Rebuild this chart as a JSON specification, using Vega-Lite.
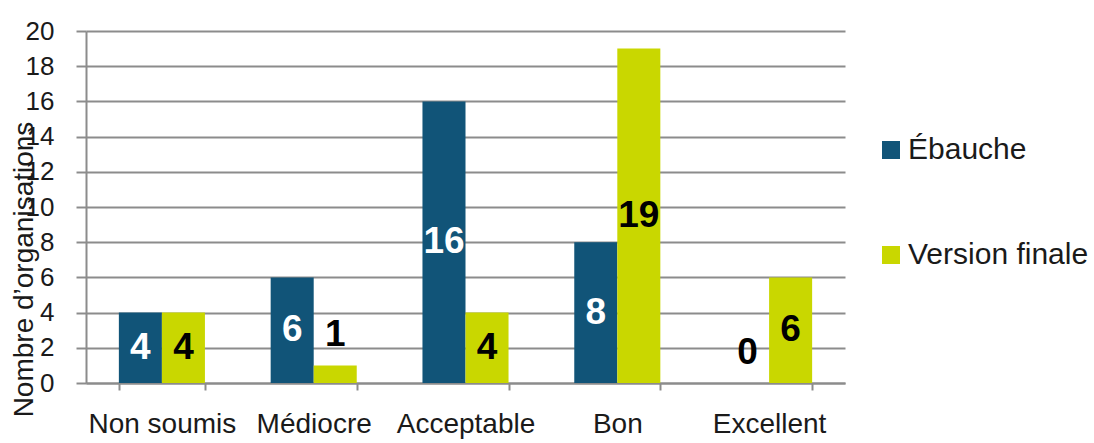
{
  "$schema": "https://vega.github.io/schema/vega-lite/v6.json",
  "width": 759,
  "height": 352,
  "autosize": "none",
  "padding": {"left": 86, "top": 31, "right": 249, "bottom": 60},
  "background": "white",
  "config": {
    "view": {"stroke": null},
    "font": "Liberation Sans"
  },
  "data": {
    "values": [
      {"categorie": "Non soumis", "serie": "Ébauche", "value": 4},
      {"categorie": "Non soumis", "serie": "Version finale", "value": 4},
      {"categorie": "Médiocre", "serie": "Ébauche", "value": 6},
      {"categorie": "Médiocre", "serie": "Version finale", "value": 1},
      {"categorie": "Acceptable", "serie": "Ébauche", "value": 16},
      {"categorie": "Acceptable", "serie": "Version finale", "value": 4},
      {"categorie": "Bon", "serie": "Ébauche", "value": 8},
      {"categorie": "Bon", "serie": "Version finale", "value": 19},
      {"categorie": "Excellent", "serie": "Ébauche", "value": 0},
      {"categorie": "Excellent", "serie": "Version finale", "value": 6}
    ]
  },
  "encoding": {
    "x": {
      "field": "categorie",
      "type": "nominal",
      "sort": ["Non soumis", "Médiocre", "Acceptable", "Bon", "Excellent"],
      "scale": {"paddingInner": 0.433, "paddingOuter": 0.2165},
      "axis": {
        "title": null,
        "labelAngle": 0,
        "labelFont": "Liberation Sans",
        "labelFontSize": 28,
        "labelColor": "#1a1a1a",
        "labelPadding": 20,
        "tickBand": "extent",
        "tickSize": 7,
        "tickWidth": 2,
        "tickColor": "#8c8c8c",
        "domainColor": "#8c8c8c",
        "domainWidth": 2,
        "grid": false
      }
    },
    "xOffset": {
      "field": "serie",
      "type": "nominal",
      "sort": ["Ébauche", "Version finale"],
      "scale": {"paddingInner": 0, "paddingOuter": 0}
    }
  },
  "layer": [
    {
      "mark": {"type": "bar"},
      "encoding": {
        "y": {
          "field": "value",
          "type": "quantitative",
          "scale": {"domain": [0, 20], "nice": false},
          "axis": {
            "title": "Nombre d’organisations",
            "titleFont": "Liberation Sans",
            "titleFontSize": 28,
            "titleFontWeight": "normal",
            "titleColor": "#1a1a1a",
            "titleX": -48,
            "titleY": 238,
            "titleAngle": 270,
            "titleAlign": "center",
            "titleBaseline": "bottom",
            "values": [0, 2, 4, 6, 8, 10, 12, 14, 16, 18, 20],
            "labelOverlap": false,
            "labelFont": "Liberation Sans",
            "labelFontSize": 26,
            "labelColor": "#1a1a1a",
            "labelPadding": 22,
            "tickSize": 10,
            "tickWidth": 2,
            "tickColor": "#8c8c8c",
            "domainColor": "#8c8c8c",
            "domainWidth": 2,
            "grid": true,
            "gridColor": "#8c8c8c",
            "gridWidth": 2
          }
        },
        "color": {
          "field": "serie",
          "type": "nominal",
          "sort": ["Ébauche", "Version finale"],
          "scale": {"domain": ["Ébauche", "Version finale"], "range": ["#115478", "#c9d700"]},
          "legend": {
            "title": null,
            "orient": "none",
            "legendX": 790,
            "legendY": 104,
            "padding": 0,
            "symbolType": "square",
            "symbolSize": 324,
            "symbolStrokeWidth": 0,
            "labelFont": "Liberation Sans",
            "labelFontSize": 30,
            "labelColor": "#1a1a1a",
            "labelOffset": 2,
            "labelLimit": 0,
            "rowPadding": 75
          }
        }
      }
    },
    {
      "transform": [
        {"calculate": "datum.value < 2 ? datum.value + 1.7 : datum.value / 2", "as": "labelPos"}
      ],
      "mark": {
        "type": "text",
        "font": "Liberation Sans",
        "fontWeight": "bold",
        "fontSize": 37,
        "baseline": "middle",
        "align": "center"
      },
      "encoding": {
        "y": {
          "field": "labelPos",
          "type": "quantitative",
          "axis": {
            "title": "Nombre d’organisations",
            "titleFont": "Liberation Sans",
            "titleFontSize": 28,
            "titleFontWeight": "normal",
            "titleColor": "#1a1a1a",
            "titleX": -48,
            "titleY": 238,
            "titleAngle": 270,
            "titleAlign": "center",
            "titleBaseline": "bottom",
            "values": [0, 2, 4, 6, 8, 10, 12, 14, 16, 18, 20],
            "labelOverlap": false,
            "labelFont": "Liberation Sans",
            "labelFontSize": 26,
            "labelColor": "#1a1a1a",
            "labelPadding": 22,
            "tickSize": 10,
            "tickWidth": 2,
            "tickColor": "#8c8c8c",
            "domainColor": "#8c8c8c",
            "domainWidth": 2,
            "grid": true,
            "gridColor": "#8c8c8c",
            "gridWidth": 2
          }
        },
        "text": {"field": "value", "type": "quantitative"},
        "color": {
          "condition": {"test": "datum.serie === 'Ébauche' && datum.value >= 2", "value": "white"},
          "value": "black"
        }
      }
    }
  ]
}
